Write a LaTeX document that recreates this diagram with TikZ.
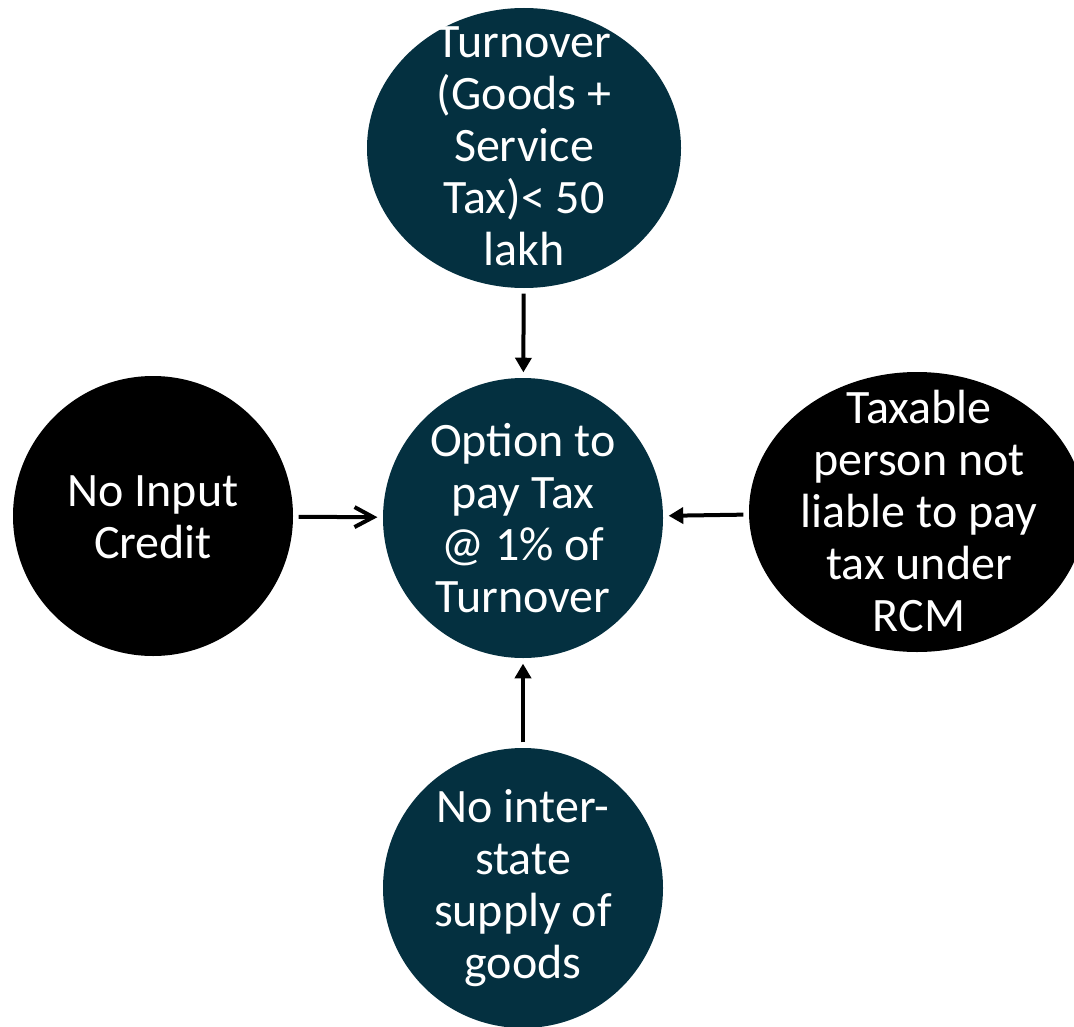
\documentclass[tikz,border=0pt]{standalone}
\usepackage{fontspec}
\setmainfont{Carlito}
\usetikzlibrary{shapes.geometric,arrows.meta}
\definecolor{darkteal}{RGB}{4,48,64}
\tikzset{
  bubble/.style={ellipse, inner sep=0pt, draw=none},
  tealbubble/.style={bubble, fill=darkteal},
  blackbubble/.style={bubble, fill=black},
  label text/.style={text=white, align=center, inner sep=0pt,
    font=\fontsize{36}{39}\selectfont},
  link/.style={line width=3pt, shorten <=4pt, shorten >=4pt},
  solidtip/.style={link, -{Triangle[length=11pt,width=12pt]}},
  opentip/.style={link, -{Straight Barb[length=14pt,width=15pt,line width=3pt]}}
}
\begin{document}
\begin{tikzpicture}[x=0.75pt,y=-0.75pt]
  \useasboundingbox (0,0) rectangle (1074,1027);
  \clip (0,0) rectangle (1074,1027);
  \fill[white] (0,0) rectangle (1074,1027);

  % bubbles
  \node[tealbubble, minimum width=235.5pt, minimum height=210pt] (top) at (524,148) {};
  \node[tealbubble, minimum width=210pt, minimum height=210pt] (mid) at (523,518) {};
  \node[blackbubble, minimum width=210pt, minimum height=210pt] (left) at (153,516) {};
  \node[blackbubble, minimum width=252pt, minimum height=210pt] (right) at (917,512) {};
  \node[tealbubble, minimum width=210pt, minimum height=210pt] (bottom) at (523,888) {};

  % texts
  \node[label text] (toptext) at (524,146) {Turnover\\(Goods +\\Service\\Tax)< 50\\lakh};
  \node[label text] (midtext) at (523,518) {Option to\\pay Tax\\@ 1\% of\\Turnover};
  \node[label text] (lefttext) at (153,517) {No Input\\Credit};
  \node[label text] (righttext) at (919,511) {Taxable\\person not\\liable to pay\\tax under\\RCM};
  \node[label text] (bottomtext) at (523,888) {No inter-\\state\\supply of\\goods};

  % connectors
  \draw[solidtip] (top) -- (mid);
  \draw[opentip] (left) -- (mid);
  \draw[solidtip] (right) -- (mid);
  \draw[solidtip] (bottom) -- (mid);
\end{tikzpicture}
\end{document}
